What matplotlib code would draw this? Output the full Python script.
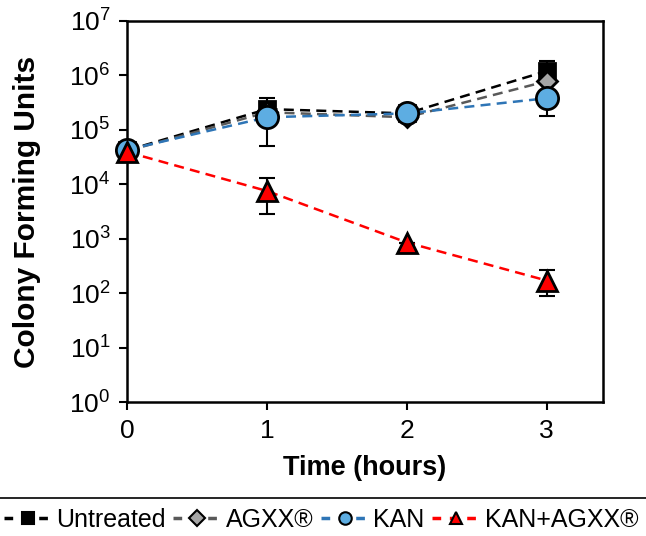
import matplotlib.pyplot as plt
from matplotlib.lines import Line2D

plt.rcParams['font.family'] = ['Liberation Sans', 'DejaVu Sans']
plt.rcParams['mathtext.default'] = 'regular'

# Data
time_h = [0, 1, 2, 3]

untreated = [4.2e4, 2.4e5, 2.0e5, 1.2e6]
untreated_err_lo = [0, 0, 0, 0]
untreated_err_hi = [0, 1.4e5, 0, 0.6e6]

agxx = [4.1e4, 2.1e5, 1.7e5, 7.8e5]
agxx_err_lo = [0, 0, 0, 0]
agxx_err_hi = [0, 0, 0, 0]

kan = [4.3e4, 1.7e5, 2.0e5, 3.8e5]
kan_err_lo = [0, 1.2e5, 0, 2.0e5]
kan_err_hi = [0, 0, 0, 0]

kan_agxx = [3.9e4, 7.5e3, 8.5e2, 1.7e2]
kan_agxx_err_lo = [0, 4.7e3, 0, 80]
kan_agxx_err_hi = [0, 5.5e3, 0, 100]

labels = ['Untreated', 'AGXX®', 'KAN', 'KAN+AGXX®']

fig = plt.figure(figsize=(6.46, 5.36), dpi=100)
ax = fig.add_axes([0.197, 0.25, 0.736, 0.711])

series = [
    (untreated, untreated_err_lo, untreated_err_hi, 's', '#000000', '#000000', 11, labels[0]),
    (agxx, agxx_err_lo, agxx_err_hi, 'D', '#595959', '#a6a6a6', 10, labels[1]),
    (kan, kan_err_lo, kan_err_hi, 'o', '#2e75b6', '#5dade2', 16, labels[2]),
    (kan_agxx, kan_agxx_err_lo, kan_agxx_err_hi, '^', '#ff0000', '#ff0000', 15, labels[3]),
]

handles = []
for vals, lo, hi, mk, lc, fc, ms, lab in series:
    ax.errorbar(time_h, vals, yerr=[lo, hi], fmt='none', ecolor='black',
                elinewidth=1.5, capsize=6, capthick=1.5, clip_on=False, zorder=2)
    ax.plot(time_h, vals, linestyle=(0, (4, 2.5)), color=lc, linewidth=1.8,
            clip_on=False, zorder=3)
    ax.plot(time_h, vals, linestyle='none', marker=mk, markersize=ms,
            markerfacecolor=fc, markeredgecolor='black', markeredgewidth=2,
            clip_on=False, zorder=4)
    handles.append(Line2D([], [], linestyle=(0, (2.5, 2.5)), color=lc, linewidth=2.5,
                          marker=mk, markersize=8 if mk != 'o' else 9,
                          markerfacecolor=fc, markeredgecolor='black',
                          markeredgewidth=1.5, label=lab))

ax.set_yscale('log')
ax.set_ylim(1, 1e7)
ax.set_xlim(0, 3.4)
ax.set_xticks(time_h)
ax.set_yticks([10 ** i for i in range(8)])

ax.tick_params(axis='both', which='major', labelsize=19, length=6, width=1.5,
               direction='out', colors='black', pad=6)
ax.tick_params(axis='y', which='minor', length=3.5, width=1.2, direction='out')
for sp in ax.spines.values():
    sp.set_linewidth(1.8)

ax.set_xlabel('Time (hours)', fontsize=19.5, fontweight='bold', labelpad=9)
ax.set_ylabel('Colony Forming Units', fontsize=21.5, fontweight='bold', labelpad=20)

# separator line above legend
fig.add_artist(Line2D([0, 1], [0.071, 0.071], color='black', linewidth=1.2,
                      transform=fig.transFigure))

fig.legend(handles=handles, loc='center', bbox_to_anchor=(0.497, 0.03), ncol=4,
           frameon=False, fontsize=18, handlelength=1.9, handletextpad=0.2,
           columnspacing=0.3, borderaxespad=0, borderpad=0)

fig.savefig('out.png', dpi=100)
